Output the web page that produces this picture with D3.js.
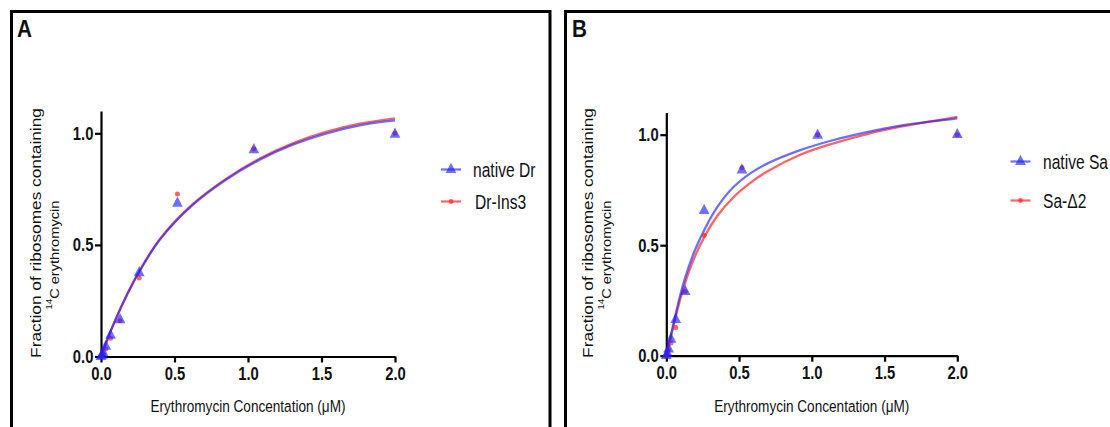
<!DOCTYPE html>
<html>
<head>
<meta charset="utf-8">
<script src="https://cdn.jsdelivr.net/npm/d3@7"></script>
<style>
  body { margin: 0; background: #fff; }
  svg text { font-family: "Liberation Sans", Arial, sans-serif; fill: #111; }
</style>
</head>
<body>
<svg id="vis-svg" width="1110" height="427"></svg>
<script>
// erythromycin concentrations (uM) used for the binding points
const conc = [0, 0.008, 0.016, 0.0325, 0.065, 0.13, 0.26, 0.52, 1.04, 2.0];

// panel A: measured fractions
const nativeDr = [0, 0.005, 0.015, 0.045, 0.095, 0.164, 0.375, 0.686, 0.926, 0.995];
const drIns3   = [0, 0.004, 0.012, 0.034, 0.082, 0.160, 0.352, 0.728, 0.930, 1.000];

// panel B: measured fractions
const nativeSa = [0, 0.010, 0.030, 0.074, 0.163, 0.290, 0.657, 0.840, 0.997, 1.000];
const saDelta2 = [0, 0.008, 0.026, 0.057, 0.128, 0.290, 0.545, 0.850, 1.000, 1.000];

// fitted curves
const fitAx       = [0, 0.05, 0.1, 0.18, 0.26, 0.4, 0.62, 0.85, 1.08, 1.3, 1.53, 1.76, 2.0];
const fitNativeDr = [0, 0.0875, 0.1675, 0.281, 0.380, 0.523, 0.677, 0.792, 0.882, 0.948, 0.999, 1.036, 1.058];
const fitDrIns3   = [0, 0.0875, 0.1675, 0.281, 0.381, 0.526, 0.680, 0.796, 0.887, 0.954, 1.006, 1.043, 1.067];

const fitSaX      = [0, 0.034, 0.08, 0.126, 0.195, 0.26, 0.35, 0.46, 0.58, 0.69, 0.92, 1.15, 1.38, 1.61, 2.0];
const fitNativeSa = [0, 0.10, 0.232, 0.345, 0.475, 0.568, 0.672, 0.762, 0.826, 0.868, 0.930, 0.976, 1.012, 1.041, 1.074];
const fitD2x      = [0, 0.057, 0.103, 0.172, 0.263, 0.35, 0.46, 0.58, 0.69, 0.92, 1.15, 1.38, 1.61, 2.0];
const fitSaDelta2 = [0, 0.155, 0.272, 0.41, 0.54, 0.632, 0.716, 0.783, 0.832, 0.909, 0.961, 1.003, 1.036, 1.081];

const xTicks = [0, 0.5, 1.0, 1.5, 2.0];
const yTicks = [0, 0.5, 1.0];

const BLUE = "rgba(30,30,255,0.64)";
const RED = "rgba(255,40,40,0.72)";
const squeeze = 0.8; // the figure text is horizontally condensed

const svg = d3.select("#vis-svg");
svg.append("rect").attr("width", 1110).attr("height", 427).attr("fill", "#fff");

// panel frames
svg.append("rect")
    .attr("x", 11.5).attr("y", 11.5).attr("width", 538.5).attr("height", 440)
    .attr("fill", "none").attr("stroke", "#000").attr("stroke-width", 3);
svg.append("rect")
    .attr("x", 565.5).attr("y", 11.5).attr("width", 600).attr("height", 440)
    .attr("fill", "none").attr("stroke", "#000").attr("stroke-width", 3);

function zip(xs, ys) { return xs.map((x, i) => [x, ys[i]]); }

function panel(p) {
    const x = d3.scaleLinear().domain([0, 2]).range([p.left, p.right]);
    const y = d3.scaleLinear().domain([0, 1.1]).range([p.bottom, p.bottom - 1.1 * p.unitY]);

    const g = svg.append("g");

    // panel letter
    g.append("text")
        .attr("transform", "translate(" + p.letterX + ",37) scale(0.9,1)")
        .style("font-size", "23px").style("font-weight", "bold")
        .text(p.letter);

    // x axis
    const xa = g.append("g")
        .attr("transform", "translate(0," + p.bottom + ")")
        .call(d3.axisBottom(x).tickValues(xTicks).tickFormat(d3.format(".1f")).tickSize(6).tickSizeOuter(0).tickPadding(4));
    // y axis
    const ya = g.append("g")
        .attr("transform", "translate(" + p.left + ",0)")
        .call(d3.axisLeft(y).tickValues(yTicks).tickFormat(d3.format(".1f")).tickSize(6).tickSizeOuter(0));

    [xa, ya].forEach(a => {
        a.select(".domain").attr("stroke", "#000").attr("stroke-width", 2.2);
        a.selectAll(".tick line").attr("stroke", "#000").attr("stroke-width", 2.2);
        a.selectAll("text")
            .attr("fill", "#111")
            .style("font-family", "\"Liberation Sans\", Arial, sans-serif")
            .style("font-size", "18.5px").style("font-weight", "bold");
    });
    xa.selectAll("text").attr("transform", "scale(" + squeeze + ",1)");
    ya.selectAll("text").attr("x", -9.5).attr("transform", "scale(" + squeeze + ",1)");

    // axis titles
    g.append("text")
        .attr("transform", "translate(" + ((p.left + p.right) / 2) + ",412) scale(" + squeeze + ",1)")
        .attr("text-anchor", "middle")
        .style("font-size", "17px")
        .text("Erythromycin Concentation (\u03bcM)");

    g.append("text")
        .attr("transform", "translate(" + p.yLab1 + ",233) scale(" + squeeze + ",1) rotate(-90)")
        .attr("text-anchor", "middle").attr("dominant-baseline", "central")
        .style("font-size", "17.3px")
        .text("Fraction of ribosomes containing");
    const l2 = g.append("text")
        .attr("transform", "translate(" + p.yLab2 + ",255) scale(" + squeeze + ",0.86) rotate(-90)")
        .attr("text-anchor", "middle").attr("dominant-baseline", "central")
        .style("font-size", "17px");
    l2.append("tspan").attr("dy", "-0.35em").style("font-size", "11px").text("14");
    l2.append("tspan").attr("dy", "0.35em").text("C erythromycin");

    const line = d3.line().x(d => x(d[0])).y(d => y(d[1])).curve(d3.curveCatmullRom.alpha(0.5));

    // fit curves: red first, blue on top
    g.append("path").datum(zip(p.fitRedX, p.fitRed))
        .attr("d", line).attr("fill", "none").attr("stroke", RED).attr("stroke-width", 2.3);
    g.append("path").datum(zip(p.fitBlueX, p.fitBlue))
        .attr("d", line).attr("fill", "none").attr("stroke", BLUE).attr("stroke-width", 2.3);

    // points
    g.selectAll(".dot").data(zip(conc, p.red)).enter().append("circle")
        .attr("cx", d => x(d[0])).attr("cy", d => y(d[1])).attr("r", 2.5)
        .attr("fill", RED);
    const tri = d3.symbol().type(d3.symbolTriangle).size(50);
    g.selectAll(".tri").data(zip(conc, p.blue)).enter().append("path")
        .attr("d", tri)
        .attr("transform", d => "translate(" + x(d[0]) + "," + y(d[1]) + ") scale(1,1.1)")
        .attr("fill", BLUE);

    // legend
    const lg = g.append("g");
    [[p.legY[0], BLUE, p.names[0], "tri", p.legText[0]], [p.legY[1], RED, p.names[1], "dot", p.legText[1]]].forEach(r => {
        lg.append("line")
            .attr("x1", p.legX).attr("x2", p.legX + 20).attr("y1", r[0]).attr("y2", r[0])
            .attr("stroke", r[1]).attr("stroke-width", 2.2);
        if (r[3] === "tri") {
            lg.append("path").attr("d", tri)
                .attr("transform", "translate(" + (p.legX + 10) + "," + r[0] + ") scale(1,1.1)")
                .attr("fill", BLUE);
        } else {
            lg.append("circle").attr("cx", p.legX + 10).attr("cy", r[0]).attr("r", 2.4).attr("fill", RED);
        }
        lg.append("text")
            .attr("transform", "translate(" + r[4] + "," + (r[0] + 7) + ") scale(" + squeeze + ",1)")
            .style("font-size", "19.5px")
            .text(r[2]);
    });
}

panel({
    letter: "A", letterX: 17,
    left: 101, right: 395, bottom: 356.5, unitY: 223.2,
    yLab1: 36, yLab2: 52,
    blue: nativeDr, red: drIns3,
    fitBlueX: fitAx, fitBlue: fitNativeDr, fitRedX: fitAx, fitRed: fitDrIns3,
    legX: 441, legY: [169.5, 201.5], legText: [473, 475],
    names: ["native Dr", "Dr-Ins3"]
});

panel({
    letter: "B", letterX: 572,
    left: 666.3, right: 957.3, bottom: 355.7, unitY: 221,
    yLab1: 588, yLab2: 604,
    blue: nativeSa, red: saDelta2,
    fitBlueX: fitSaX, fitBlue: fitNativeSa, fitRedX: fitD2x, fitRed: fitSaDelta2,
    legX: 1010.5, legY: [161.5, 200.5], legText: [1043, 1043],
    names: ["native Sa", "Sa-\u03942"]
});
</script>
</body>
</html>
